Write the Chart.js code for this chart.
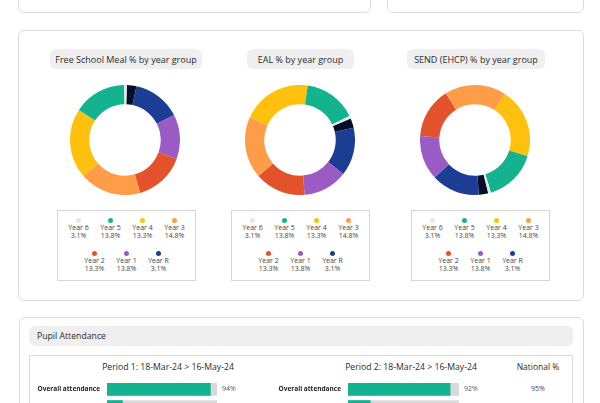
<!DOCTYPE html>
<html>
<head>
<meta charset="utf-8">
<script src="https://cdn.jsdelivr.net/npm/chart.js@4.4.1/dist/chart.umd.min.js"></script>
<style>
  * { box-sizing: border-box; }
  body { margin: 0; width: 600px; height: 403px; overflow: hidden; background: #fff;
         font-family: "Open Sans", "Noto Sans", sans-serif; color: #333; position: relative; }
  .abs { position: absolute; }
  .card { position: absolute; border: 1px solid #dcdcdc; border-radius: 6px; background: #fff; }
  .pill { position: absolute; background: #efefef; border-radius: 6px; font-size: 9px;
          display: flex; align-items: center; justify-content: center; color: #2b2b2b; }
  .legend { position: absolute; top: 210px; width: 139px; height: 71px; border: 1px solid #d6d6d6;
            display: flex; flex-wrap: wrap; justify-content: center; padding-top: 7px; align-content: flex-start; }
  .item { width: 32px; text-align: center; font-size: 7px; line-height: 8px; color: #444; margin-bottom: 11px; }
  .dot { width: 5px; height: 5px; border-radius: 50%; margin: 0 auto 1px; }
  .head { position: absolute; font-size: 8.7px; color: #2b2b2b; text-align: center; white-space: nowrap; }
  .small { position: absolute; font-size: 7px; color: #444; text-align: center; }
</style>
</head>
<body>

<div class="card" style="left:18px;top:-12px;width:353px;height:25px"></div>
<div class="card" style="left:387px;top:-12px;width:197px;height:25px"></div>

<div class="card" style="left:18px;top:30px;width:566px;height:271px"></div>
<div class="pill" style="left:50px;top:49px;width:152px;height:20px">Free School Meal % by year group</div>
<div class="pill" style="left:247px;top:49px;width:107px;height:20px">EAL % by year group</div>
<div class="pill" style="left:407px;top:49px;width:138px;height:20px">SEND (EHCP) % by year group</div>

<canvas id="fsmChart" class="abs" width="110" height="110" style="left:70px;top:85px"></canvas>
<canvas id="ealChart" class="abs" width="110" height="110" style="left:245px;top:85px"></canvas>
<canvas id="sendChart" class="abs" width="110" height="110" style="left:420px;top:85px"></canvas>

<div class="legend" style="left:57px" id="legend1"></div>
<div class="legend" style="left:231px" id="legend2"></div>
<div class="legend" style="left:411px" id="legend3"></div>

<div class="card" style="left:19px;top:317px;width:565px;height:120px"></div>
<div class="pill" style="left:29px;top:326px;width:544px;height:20px;justify-content:flex-start;padding-left:8px;font-size:8.7px">Pupil Attendance</div>
<div class="abs" style="left:29px;top:355px;width:544px;height:80px;border:1px solid #dadada"></div>

<div class="head" style="left:68px;top:361px;width:200px">Period 1: 18-Mar-24 &gt; 16-May-24</div>
<div class="head" style="left:311px;top:361px;width:200px">Period 2: 18-Mar-24 &gt; 16-May-24</div>
<div class="head" style="left:498px;top:361px;width:80px;font-size:8.5px">National %</div>
<div class="small" id="national1" style="left:518px;top:384px;width:40px"></div>

<canvas id="period1Chart" class="abs" width="220" height="42" style="left:30px;top:377px"></canvas>
<canvas id="period2Chart" class="abs" width="220" height="42" style="left:271px;top:377px"></canvas>

<script>
const yearLabels = ['Unknown', 'Year R', 'Year 1', 'Year 2', 'Year 3', 'Year 4', 'Year 5', 'Year 6'];
const yearColors = ['#070d2a', '#1b3d93', '#9b5bc5', '#e4522b', '#fe9c48', '#ffc10e', '#14b38f', '#d8ece8'];
const fsmValues = [2.8, 14.2, 13.1, 15.0, 18.1, 20.6, 15.6, 0.8];
const ealValues = [2.8, 14.2, 13.1, 15.0, 18.1, 20.6, 15.6, 0.8];
const sendValues = [2.8, 14.2, 13.1, 15.0, 18.1, 20.6, 15.6, 0.8];

const legendLabels = ['Year 6', 'Year 5', 'Year 4', 'Year 3', 'Year 2', 'Year 1', 'Year R'];
const legendPct = [3.1, 13.8, 13.3, 14.8, 13.3, 13.8, 3.1];

// second row is cut off at the bottom of the picture, its name isn't visible
const attendanceRows = ['Overall attendance', ''];
const period1Values = [94, 14];
const period2Values = [92, 20];
const nationalValues = [95];
const trackValues = [100, 100];

function makeDoughnut(id, values, rotation) {
    new Chart(document.getElementById(id).getContext('2d'), {
        type: 'doughnut',
        data: {
            labels: yearLabels,
            datasets: [{
                data: values,
                backgroundColor: yearColors,
                borderWidth: 0
            }]
        },
        options: {
            responsive: false,
            animation: false,
            cutout: '65%',
            rotation: rotation,
            plugins: { legend: { display: false } }
        }
    });
}

makeDoughnut('fsmChart', fsmValues, 2);
makeDoughnut('ealChart', ealValues, 67);
makeDoughnut('sendChart', sendValues, 166);

// html legends, same for all three
['legend1', 'legend2', 'legend3'].forEach(id => {
    const box = document.getElementById(id);
    legendLabels.forEach((lab, i) => {
        const color = yearColors[yearLabels.indexOf(lab)];
        const el = document.createElement('div');
        el.className = 'item';
        el.innerHTML = '<div class="dot" style="background:' + color + '"></div>' +
            '<div>' + lab + '</div><div>' + legendPct[i] + '%</div>';
        box.appendChild(el);
    });
});

document.getElementById('national1').textContent = nationalValues[0] + '%';

const valueLabels = {
    id: 'valueLabels',
    afterDatasetsDraw(chart) {
        const ctx = chart.ctx;
        const meta = chart.getDatasetMeta(0);
        ctx.save();
        ctx.font = '7px "Open Sans"';
        ctx.fillStyle = '#555';
        ctx.textBaseline = 'middle';
        meta.data.forEach((bar, i) => {
            if (!chart.data.labels[i]) return;
            ctx.fillText(chart.data.datasets[0].data[i] + '%', chart.chartArea.right + 5, bar.y);
        });
        ctx.restore();
    }
};

function makeAttendance(id, values, areaWidth) {
    new Chart(document.getElementById(id).getContext('2d'), {
        type: 'bar',
        data: {
            labels: attendanceRows,
            datasets: [
                { data: values, backgroundColor: '#14b38f', barThickness: 12, grouped: false },
                { data: trackValues, backgroundColor: '#d9d9d9', barThickness: 12, grouped: false }
            ]
        },
        options: {
            indexAxis: 'y',
            responsive: false,
            animation: false,
            layout: { padding: { right: 220 - 77 - areaWidth, top: 0, bottom: 0, left: 0 } },
            scales: {
                x: { display: false, min: 0, max: 100 },
                y: {
                    grid: { display: false, drawTicks: true, tickLength: 7 },
                    border: { display: false },
                    ticks: { font: { size: 6.5, weight: 'bold', family: 'Open Sans' }, color: '#222', padding: 0 },
                    afterFit: s => { s.width = 77; }
                }
            },
            plugins: { legend: { display: false }, tooltip: { enabled: false } }
        },
        plugins: [valueLabels]
    });
}

makeAttendance('period1Chart', period1Values, 110);
makeAttendance('period2Chart', period2Values, 111);
</script>
</body>
</html>
